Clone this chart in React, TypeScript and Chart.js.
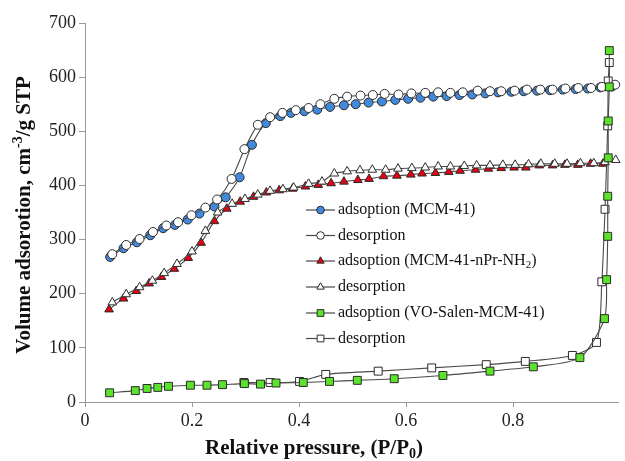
import React, { useEffect, useRef } from "react";
import { Chart, registerables } from "chart.js";

Chart.register(...registerables);

// MCM-41
const mcmAdsX = [0.047,0.072,0.097,0.122,0.146,0.168,0.192,0.214,0.242,0.263,0.289,0.312,0.338,0.365,0.385,0.41,0.434,0.458,0.484,0.506,0.53,0.555,0.58,0.604,0.627,0.651,0.676,0.7,0.724,0.748,0.772,0.797,0.82,0.845,0.869,0.893,0.917,0.94,0.963,0.985];
const mcmAdsY = [268,284,295,308,321,327,337,348,361,378,415,475,515,528,534,537,540,545,548,550,553,555,558,560,562,564,565,567,568,570,572,573,574,575,576,577,578,579,581,583];
const mcmDesX = [0.051,0.077,0.102,0.127,0.152,0.174,0.199,0.225,0.247,0.274,0.298,0.323,0.346,0.369,0.394,0.418,0.44,0.466,0.49,0.515,0.538,0.56,0.586,0.61,0.636,0.66,0.683,0.706,0.734,0.757,0.778,0.803,0.826,0.851,0.874,0.898,0.922,0.946,0.966,0.991];
const mcmDesY = [273,290,301,314,326,332,345,359,374,412,467,512,526,534,539,543,550,560,564,566,567,569,568,570,571,572,571,572,575,574,574,575,577,577,577,579,580,580,582,586];

// MCM-41-nPr-NH2
const nh2AdsX = [0.045,0.072,0.096,0.12,0.143,0.167,0.193,0.217,0.242,0.265,0.29,0.315,0.339,0.363,0.388,0.412,0.436,0.46,0.484,0.51,0.531,0.558,0.583,0.609,0.63,0.655,0.68,0.701,0.73,0.754,0.778,0.802,0.824,0.849,0.874,0.897,0.921,0.945,0.968];
const nh2AdsY = [171,191,205,219,231,246,266,294,334,357,370,379,387,391,394,398,401,404,407,410,412,417,418,420,422,423,425,427,429,431,432,433,433,437,437,438,438,440,440];
const nh2DesX = [0.051,0.077,0.102,0.126,0.148,0.172,0.2,0.225,0.248,0.275,0.299,0.323,0.346,0.37,0.39,0.418,0.443,0.466,0.49,0.514,0.537,0.562,0.585,0.611,0.636,0.66,0.683,0.709,0.732,0.757,0.781,0.804,0.829,0.852,0.878,0.901,0.926,0.951,0.972,0.992];
const nh2DesY = [184,199,212,224,238,255,278,316,350,366,375,383,390,393,396,403,407,422,426,428,429,429,431,432,433,435,435,436,437,437,438,438,439,440,440,440,441,441,443,447];

// VO-Salen-MCM-41
const voAdsX = [0.046,0.094,0.116,0.136,0.156,0.197,0.228,0.257,0.298,0.328,0.357,0.408,0.457,0.509,0.578,0.669,0.757,0.838,0.925,0.971,0.975,0.977,0.977,0.978,0.978,0.98,0.98];
const voAdsY = [17,21,25,27,29,31,31,32,34,33,35,36,38,40,43,49,57,65,82,154,226,306,380,451,519,582,649];
const voDesX = [0.297,0.346,0.401,0.45,0.548,0.648,0.75,0.823,0.911,0.956,0.966,0.972,0.977,0.978,0.98];
const voDesY = [36,36,38,51,57,63,69,75,86,110,222,356,510,593,627];

const xTicks = [0, 0.2, 0.4, 0.6, 0.8];
const legendLabels = [
  "adsoption (MCM-41)",
  "desorption",
  "adsoption (MCM-41-nPr-NH",
  "desorption",
  "adsoption (VO-Salen-MCM-41)",
  "desorption",
];

const BLUE = "#4189DD";
const RED = "#E60012";
const GREEN = "#5BE32C";
const WHITE = "#FFFFFF";
const EDGE = "#2b2b2b";
const LINE = "#4a4a4a";
const AXIS = "#9a9a9a";

const pts = (xs: number[], ys: number[]) => xs.map((x, i) => ({ x, y: ys[i] }));

const markerStyles = [
  { shape: "circle", fill: BLUE, r: 4.5 },
  { shape: "circle", fill: WHITE, r: 4.5 },
  { shape: "triangle", fill: RED, r: 5 },
  { shape: "triangle", fill: WHITE, r: 5 },
  { shape: "rect", fill: GREEN, r: 5.6 },
  { shape: "rect", fill: WHITE, r: 5.6 },
];

function drawMarker(ctx: CanvasRenderingContext2D, shape: string, x: number, y: number, r: number, fill: string) {
  ctx.save();
  ctx.fillStyle = fill;
  ctx.strokeStyle = EDGE;
  ctx.lineWidth = 1;
  ctx.beginPath();
  if (shape === "circle") {
    ctx.arc(x, y, r, 0, Math.PI * 2);
  } else if (shape === "triangle") {
    for (let k = 0; k < 3; k++) {
      const a = (k * 2 * Math.PI) / 3;
      const px = x + Math.sin(a) * r;
      const py = y - Math.cos(a) * r;
      if (k === 0) ctx.moveTo(px, py);
      else ctx.lineTo(px, py);
    }
    ctx.closePath();
  } else {
    const s = r * Math.SQRT1_2;
    ctx.rect(x - s, y - s, 2 * s, 2 * s);
  }
  ctx.fill();
  ctx.stroke();
  ctx.restore();
}

const SERIF = "'Liberation Serif', 'Times New Roman', serif";

const overlayPlugin = {
  id: "overlay",
  afterDraw(chart: any) {
    const ctx: CanvasRenderingContext2D = chart.ctx;
    ctx.save();
    // Legend
    const rowY = [210, 235.5, 261, 287, 313, 338.5];
    ctx.textBaseline = "middle";
    ctx.textAlign = "left";
    for (let i = 0; i < legendLabels.length; i++) {
      const y = rowY[i];
      ctx.strokeStyle = LINE;
      ctx.lineWidth = 1.2;
      ctx.beginPath();
      ctx.moveTo(306, y);
      ctx.lineTo(335, y);
      ctx.stroke();
      const m = markerStyles[i];
      drawMarker(ctx, m.shape, 320.5, y, m.r * 0.85, m.fill);
      ctx.fillStyle = "#111";
      ctx.font = `16px ${SERIF}`;
      const txt = legendLabels[i];
      ctx.fillText(txt, 338, y);
      if (i === 2) {
        let w = ctx.measureText(txt).width;
        ctx.font = `11px ${SERIF}`;
        ctx.fillText("2", 338 + w, y + 4);
        w += ctx.measureText("2").width;
        ctx.font = `16px ${SERIF}`;
        ctx.fillText(")", 338 + w, y);
      }
    }

    // X title
    ctx.fillStyle = "#111";
    ctx.textBaseline = "alphabetic";
    const bold = `bold 21px ${SERIF}`;
    const boldSmall = `bold 14px ${SERIF}`;
    const xa = "Relative pressure, (P/P";
    const xb = "0";
    const xc = ")";
    ctx.font = bold;
    const wa = ctx.measureText(xa).width;
    const wc = ctx.measureText(xc).width;
    ctx.font = boldSmall;
    const wb = ctx.measureText(xb).width;
    const total = wa + wb + wc;
    const sx = 314 - total / 2;
    const by = 454;
    ctx.font = bold;
    ctx.fillText(xa, sx, by);
    ctx.font = boldSmall;
    ctx.fillText(xb, sx + wa, by + 4);
    ctx.font = bold;
    ctx.fillText(xc, sx + wa + wb, by);

    // Y title
    ctx.save();
    ctx.translate(30, 215);
    ctx.rotate(-Math.PI / 2);
    const ya = "Volume adsorotion, cm";
    const yb = "-3";
    const yc = "/g STP";
    ctx.font = bold;
    const ywa = ctx.measureText(ya).width;
    const ywc = ctx.measureText(yc).width;
    ctx.font = boldSmall;
    const ywb = ctx.measureText(yb).width;
    const yt = ywa + ywb + ywc;
    const ys = -yt / 2;
    ctx.font = bold;
    ctx.fillText(ya, ys, 0);
    ctx.font = boldSmall;
    ctx.fillText(yb, ys + ywa, -8);
    ctx.font = bold;
    ctx.fillText(yc, ys + ywa + ywb, 0);
    ctx.restore();

    ctx.restore();
  },
};

export default function App() {
  const ref = useRef<HTMLCanvasElement | null>(null);
  useEffect(() => {
    if (!ref.current) return;
    const common = {
      showLine: true,
      borderColor: LINE,
      borderWidth: 1.1,
      pointBorderColor: EDGE,
      pointBorderWidth: 1,
      tension: 0.25,
      clip: false as any,
    };
    const chart = new Chart(ref.current, {
      type: "scatter",
      data: {
        datasets: [
          { ...common, label: "adsoption (MCM-41)", data: pts(mcmAdsX, mcmAdsY), pointStyle: "circle", pointRadius: 4.5, pointBackgroundColor: BLUE, order: 2 },
          { ...common, label: "desorption", data: pts(mcmDesX, mcmDesY), pointStyle: "circle", pointRadius: 4.5, pointBackgroundColor: WHITE, order: 1 },
          { ...common, label: "adsoption (MCM-41-nPr-NH2)", data: pts(nh2AdsX, nh2AdsY), pointStyle: "triangle", pointRadius: 5, pointBackgroundColor: RED, order: 2 },
          { ...common, label: "desorption", data: pts(nh2DesX, nh2DesY), pointStyle: "triangle", pointRadius: 5, pointBackgroundColor: WHITE, order: 1 },
          { ...common, label: "adsoption (VO-Salen-MCM-41)", data: pts(voAdsX, voAdsY), pointStyle: "rect", pointRadius: 5.6, pointBackgroundColor: GREEN, order: 0 },
          { ...common, label: "desorption", data: pts(voDesX, voDesY), pointStyle: "rect", pointRadius: 5.6, pointBackgroundColor: WHITE, order: 1 },
        ],
      },
      options: {
        responsive: false,
        animation: false,
        events: [],
        layout: { padding: { top: 23, right: 0, left: 0, bottom: 0 } },
        plugins: {
          legend: { display: false },
          tooltip: { enabled: false },
          title: { display: false },
        },
        scales: {
          x: {
            type: "linear",
            min: 0,
            max: 0.997,
            afterBuildTicks: (axis: any) => {
              axis.ticks = xTicks.map((v) => ({ value: v }));
            },
            afterFit: (scale: any) => {
              scale.height = 59;
            },
            ticks: {
              color: "#222",
              font: { family: SERIF, size: 18 },
              padding: 3,
              maxRotation: 0,
              callback: (v: any) => (v === 0 ? "0" : Number(v).toFixed(1)),
            },
            grid: { drawOnChartArea: false, drawTicks: true, tickLength: 5, color: AXIS },
            border: { display: true, color: AXIS, width: 1 },
          },
          y: {
            type: "linear",
            min: 0,
            max: 700,
            afterFit: (scale: any) => {
              scale.width = 85;
            },
            ticks: {
              stepSize: 100,
              color: "#222",
              font: { family: SERIF, size: 18 },
              padding: 3,
            },
            grid: { drawOnChartArea: false, drawTicks: true, tickLength: 6, color: AXIS },
            border: { display: true, color: AXIS, width: 1 },
          },
        },
      },
      plugins: [overlayPlugin],
    } as any);
    return () => chart.destroy();
  }, []);
  return (
    <canvas
      ref={ref}
      width={625}
      height={461}
      style={{ position: "absolute", left: 0, top: 0, width: 625, height: 461, display: "block", background: "#fff" }}
    />
  );
}
